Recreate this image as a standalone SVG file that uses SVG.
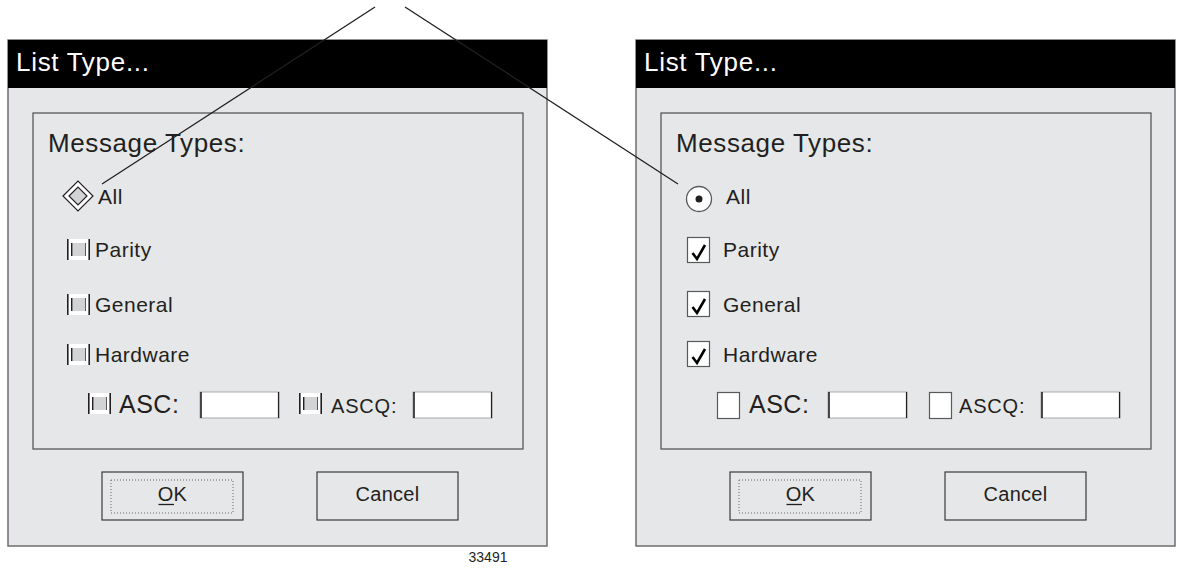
<svg xmlns="http://www.w3.org/2000/svg" xmlns:xlink="http://www.w3.org/1999/xlink" width="1180" height="572" viewBox="0 0 1180 572">
<style>
text{font-family:"Liberation Sans",Arial,sans-serif;fill:#231f20}
.dlg{fill:#e6e7e8;stroke:#6d6e70;stroke-width:1.5}
.bar{fill:#000}
.ttl{font-size:26px;fill:#fff;letter-spacing:0.7px}
.hdr{font-size:26px;letter-spacing:0.6px}
.inner{fill:none;stroke:#4d4d4f;stroke-width:1.2}
.lbl{font-size:21px;letter-spacing:0.5px}
.big{font-size:25px;letter-spacing:0.5px}
.sm{font-size:20px;letter-spacing:0.8px}
.btn{fill:#e6e7e8;stroke:#3a3a3a;stroke-width:1.2}
.focus{fill:none;stroke:#666;stroke-width:1;stroke-dasharray:1 2}
.bt{font-size:20px;text-anchor:middle;letter-spacing:0.3px}
.inp{fill:#fff;stroke:#a7a9ac;stroke-width:1}
.dk{stroke:#231f20;stroke-width:1.6}
.cb{fill:#fff;stroke:#58595b;stroke-width:1.2}
.chk{fill:none;stroke:#000;stroke-width:2.6;stroke-linejoin:miter}
.conn{stroke:#231f20;stroke-width:1.3;fill:none}
</style>
<defs>
<g id="mtog">
<rect x="0" y="0" width="23" height="21" fill="#fff"/>
<line x1="0.8" y1="0" x2="0.8" y2="21" stroke="#231f20" stroke-width="1.6"/>
<line x1="22.2" y1="0" x2="22.2" y2="21" stroke="#231f20" stroke-width="1.6"/>
<rect x="4" y="4" width="15" height="13" fill="#d1d3d4"/>
<line x1="4.7" y1="4" x2="4.7" y2="17" stroke="#231f20" stroke-width="1.4"/>
<line x1="18.5" y1="4" x2="18.5" y2="17" stroke="#58595b" stroke-width="1"/>
</g>
<g id="inbox">
<rect class="inp" x="0" y="0" width="79" height="26"/>
<line class="dk" x1="1" y1="0" x2="1" y2="26"/>
<line x1="78.5" y1="0" x2="78.5" y2="26" stroke="#231f20" stroke-width="1.2"/>
</g>
<g id="check">
<path class="chk" d="M4.5,13 L9,19 L17,5"/>
</g>
</defs>

<!-- Left dialog -->
<g id="dialog-left">
<rect class="dlg" x="8" y="40" width="539" height="506"/>
<rect class="bar" x="8" y="40" width="539" height="48"/>
<text class="ttl" x="16" y="71">List Type...</text>
<g id="left-types">
<rect class="inner" x="33" y="113" width="490" height="336"/>
<text class="hdr" x="48" y="152">Message Types:</text>
</g>
<g id="left-all">
<polygon points="63,196 78,181 93,196 78,211" fill="#fff" stroke="#231f20" stroke-width="1.2"/>
<polygon points="69,196 78,187 87,196 78,205" fill="#d1d3d4" stroke="#231f20" stroke-width="1.2"/>
<text class="lbl" x="98" y="204">All</text>
</g>
<g id="left-parity">
<use xlink:href="#mtog" x="67" y="239"/>
<text class="lbl" x="95" y="257">Parity</text>
</g>
<g id="left-general">
<use xlink:href="#mtog" x="67" y="294"/>
<text class="lbl" x="95" y="312">General</text>
</g>
<g id="left-hardware">
<use xlink:href="#mtog" x="67" y="344"/>
<text class="lbl" x="95" y="362">Hardware</text>
</g>
<g id="left-asc">
<use xlink:href="#mtog" x="88" y="393"/>
<text class="big" x="119" y="413">ASC:</text>
<use xlink:href="#inbox" x="200" y="392"/>
</g>
<g id="left-ascq">
<use xlink:href="#mtog" x="299" y="393"/>
<text class="sm" x="331" y="413">ASCQ:</text>
<use xlink:href="#inbox" x="413" y="392"/>
</g>
<g id="left-ok">
<rect class="btn" x="102" y="472" width="141" height="48"/>
<rect class="focus" x="111" y="480" width="122" height="33"/>
<text class="bt" x="172.5" y="501">OK</text>
<line x1="158.5" y1="504.5" x2="174" y2="504.5" stroke="#231f20" stroke-width="1.3"/>
</g>
<g id="left-cancel">
<rect class="btn" x="317" y="472" width="141" height="48"/>
<text class="bt" x="387.5" y="501">Cancel</text>
</g>
</g>

<!-- Right dialog -->
<g id="dialog-right">
<rect class="dlg" x="636" y="40" width="539" height="506"/>
<rect class="bar" x="636" y="40" width="539" height="48"/>
<text class="ttl" x="644" y="71">List Type...</text>
<g id="right-types">
<rect class="inner" x="661" y="113" width="490" height="336"/>
<text class="hdr" x="676" y="152">Message Types:</text>
</g>
<g id="right-all">
<circle cx="699" cy="199" r="12.5" fill="#fff" stroke="#58595b" stroke-width="1.3"/>
<circle cx="699" cy="199" r="3.5" fill="#231f20"/>
<text class="lbl" x="726" y="204">All</text>
</g>
<g id="right-parity">
<rect class="cb" x="687.5" y="237.5" width="22" height="25"/>
<use xlink:href="#check" x="688" y="240"/>
<text class="lbl" x="723" y="257">Parity</text>
</g>
<g id="right-general">
<rect class="cb" x="687.5" y="291.5" width="22" height="25"/>
<use xlink:href="#check" x="688" y="294"/>
<text class="lbl" x="723" y="312">General</text>
</g>
<g id="right-hardware">
<rect class="cb" x="687.5" y="341.5" width="22" height="25"/>
<use xlink:href="#check" x="688" y="344"/>
<text class="lbl" x="723" y="362">Hardware</text>
</g>
<g id="right-asc">
<rect class="cb" x="717.5" y="392.5" width="22" height="26"/>
<text class="big" x="749" y="413">ASC:</text>
<use xlink:href="#inbox" x="828" y="392"/>
</g>
<g id="right-ascq">
<rect class="cb" x="929.5" y="392.5" width="22" height="26"/>
<text class="sm" x="959" y="413">ASCQ:</text>
<use xlink:href="#inbox" x="1041" y="392"/>
</g>
<g id="right-ok">
<rect class="btn" x="730" y="472" width="141" height="48"/>
<rect class="focus" x="739" y="480" width="122" height="33"/>
<text class="bt" x="800.5" y="501">OK</text>
<line x1="786.5" y1="504.5" x2="802" y2="504.5" stroke="#231f20" stroke-width="1.3"/>
</g>
<g id="right-cancel">
<rect class="btn" x="945" y="472" width="141" height="48"/>
<text class="bt" x="1015.5" y="501">Cancel</text>
</g>
</g>

<g id="connectors">
<line class="conn" x1="375" y1="7" x2="102" y2="184"/>
<line class="conn" x1="405" y1="7" x2="678" y2="184"/>
</g>

<text id="fig-number" x="488" y="562" font-size="14" text-anchor="middle">33491</text>
</svg>
